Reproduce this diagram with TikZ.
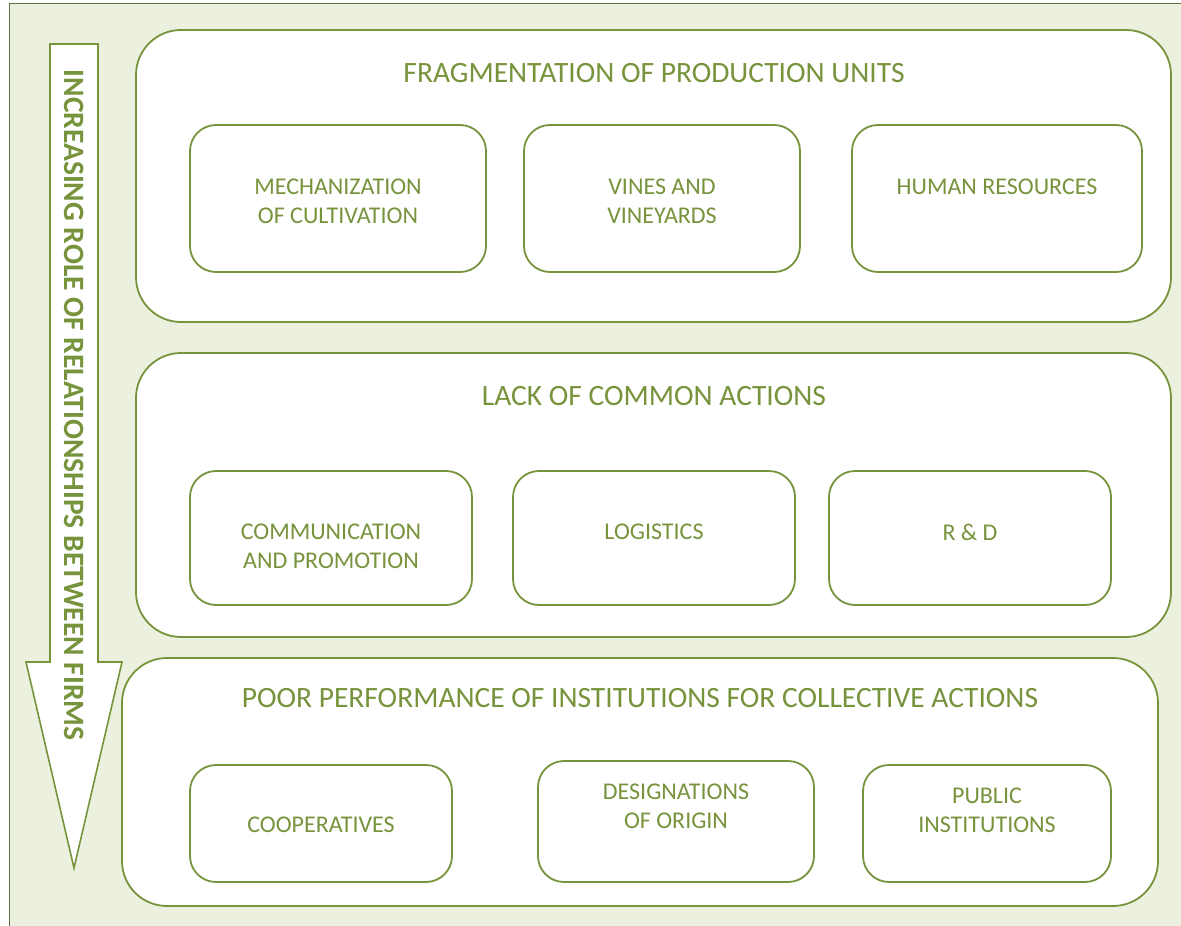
\documentclass[tikz,border=0pt]{standalone}
\usepackage{fontspec}
\setmainfont{Carlito}
\definecolor{olive}{HTML}{77933C}
\definecolor{bgreen}{HTML}{EBF1DE}
\definecolor{frameline}{HTML}{5E7340}
\tikzset{
  bigbox/.style={draw=olive, line width=1.8pt, fill=white, rounded corners=45pt, inner sep=0pt},
  smallbox/.style={draw=olive, line width=1.8pt, fill=white, rounded corners=26pt, inner sep=0pt},
  title/.style={text=olive, font=\fontsize{29.5}{33}\selectfont, inner sep=0pt},
  lbl/.style={text=olive, font=\fontsize{24}{29}\selectfont, align=center, inner sep=0pt},
  arrowtxt/.style={text=olive, font=\fontsize{29.5}{33}\selectfont\bfseries, inner sep=0pt, rotate=-90},
}
\begin{document}
\begin{tikzpicture}[x=1pt,y=-1pt]
\useasboundingbox (0,0) rectangle (1181,926);
\fill[white] (0,0) rectangle (1181,926);
\fill[bgreen] (9.5,3.5) rectangle (1181,926);
\draw[frameline, line width=1.8pt] (9.5,926) -- (9.5,3.5) -- (1181,3.5);

% arrow
\draw[olive, line width=1.6pt, fill=white, line join=miter]
  (50,44) -- (98,44) -- (98,662) -- (122,662) -- (74,868) -- (26,662) -- (50,662) -- cycle;
\node[arrowtxt] (arrowlabel) at (74,405) {INCREASING ROLE OF RELATIONSHIPS BETWEEN FIRMS};

% big boxes
\node[bigbox, minimum width=1035pt, minimum height=292pt] (b1) at (653.5,176) {};
\node[bigbox, minimum width=1035pt, minimum height=284pt] (b2) at (653.5,495) {};
\node[bigbox, minimum width=1036pt, minimum height=248pt] (b3) at (640,782) {};

\node[title] (t1) at (654,73) {FRAGMENTATION OF PRODUCTION UNITS};
\node[title] (t2) at (654,396) {LACK OF COMMON ACTIONS};
\node[title] (t3) at (640,698) {POOR PERFORMANCE OF INSTITUTIONS FOR COLLECTIVE ACTIONS};

% row 1
\node[smallbox, minimum width=296pt, minimum height=147pt] (a1) at (338,198.5) {};
\node[smallbox, minimum width=276pt, minimum height=147pt] (a2) at (662,198.5) {};
\node[smallbox, minimum width=290pt, minimum height=147pt] (a3) at (997,198.5) {};
\node[lbl] (a1t) at (338,201.5) {MECHANIZATION\\OF CULTIVATION};
\node[lbl] (a2t) at (662,201.5) {VINES AND\\VINEYARDS};
\node[lbl] (a3t) at (997,187) {HUMAN RESOURCES};

% row 2
\node[smallbox, minimum width=282pt, minimum height=134pt] (c1) at (331,538) {};
\node[smallbox, minimum width=282pt, minimum height=134pt] (c2) at (654,538) {};
\node[smallbox, minimum width=282pt, minimum height=134pt] (c3) at (970,538) {};
\node[lbl] (c1t) at (331,546) {COMMUNICATION\\AND PROMOTION};
\node[lbl] (c2t) at (654,532) {LOGISTICS};
\node[lbl] (c3t) at (970,532) {R \& D};

% row 3
\node[smallbox, minimum width=262pt, minimum height=117pt] (d1) at (321,823.5) {};
\node[smallbox, minimum width=276pt, minimum height=121pt] (d2) at (676,821.5) {};
\node[smallbox, minimum width=248pt, minimum height=117pt] (d3) at (987,823.5) {};
\node[lbl] (d1t) at (321,825) {COOPERATIVES};
\node[lbl] (d2t) at (676,806.5) {DESIGNATIONS\\OF ORIGIN};
\node[lbl] (d3t) at (987,810.5) {PUBLIC\\INSTITUTIONS};
\end{tikzpicture}
\end{document}
